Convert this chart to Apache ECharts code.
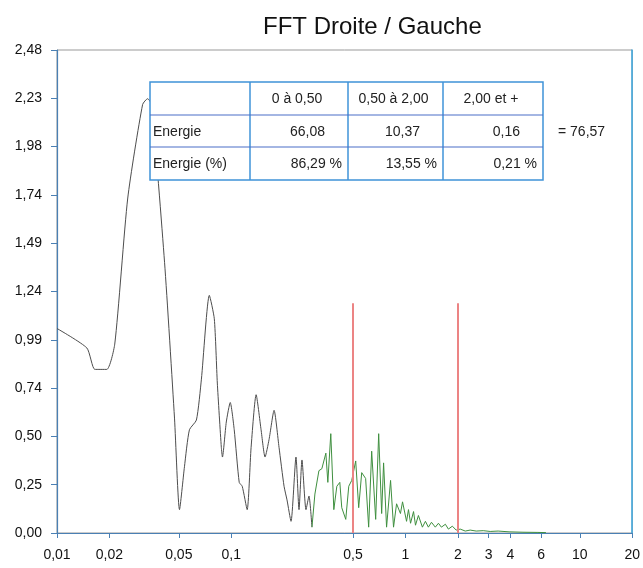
<!DOCTYPE html>
<html>
<head>
<meta charset="utf-8">
<script src="https://cdn.jsdelivr.net/npm/echarts@6/dist/echarts.min.js"></script>
<style>
html,body{margin:0;padding:0;background:#fff;}
#chart{width:643px;height:568px;}
</style>
</head>
<body>
<div id="chart"></div>
<script>
// ---- data ----
var titleText = 'FFT Droite / Gauche';
var xTickValues = [0.01, 0.02, 0.05, 0.1, 0.5, 1, 2, 3, 4, 6, 10, 20];
var yMin = 0, yMax = 2.48, yStep = 0.248;
var bandLimits = [0.5, 2];
var bandLineTop = 1.18;

// low-frequency part of the spectrum (dark trace)
var spectrumLow = [
  [0.01, 1.05], [0.01484, 0.95], [0.01649, 0.84], [0.01931, 0.84], [0.02145, 0.97],
  [0.02547, 1.72], [0.03099, 2.20], [0.03311, 2.23], [0.03491, 2.20], [0.04142, 1.39],
  [0.04724, 0.59], [0.05046, 0.12], [0.05388, 0.34], [0.05754, 0.53], [0.0631, 0.58],
  [0.06741, 0.79], [0.07484, 1.22], [0.07993, 1.10], [0.08318, 0.77], [0.0877, 0.44],
  [0.089, 0.39], [0.09366, 0.57], [0.09867, 0.67], [0.104, 0.53], [0.1111, 0.26],
  [0.1156, 0.24], [0.1234, 0.12], [0.13, 0.44], [0.1389, 0.71], [0.1483, 0.53],
  [0.1563, 0.39], [0.1648, 0.48], [0.1761, 0.63], [0.188, 0.44], [0.2009, 0.24],
  [0.2089, 0.17], [0.2203, 0.06], [0.2352, 0.39], [0.2448, 0.12], [0.2546, 0.375],
  [0.2685, 0.12], [0.2793, 0.19], [0.2905, 0.03]
];
// higher-frequency part of the spectrum (green trace)
var spectrumHigh = [
  [0.2905, 0.03], [0.302, 0.20], [0.3185, 0.32], [0.3311, 0.33], [0.3491, 0.41],
  [0.3583, 0.26], [0.3726, 0.51], [0.3878, 0.12], [0.4036, 0.24], [0.4198, 0.26],
  [0.4307, 0.13], [0.4421, 0.12], [0.4541, 0.07], [0.4724, 0.24], [0.4913, 0.27],
  [0.5179, 0.37], [0.5387, 0.13], [0.5606, 0.31], [0.5905, 0.28], [0.6146, 0.03],
  [0.6395, 0.42], [0.6743, 0.07], [0.7016, 0.51], [0.7298, 0.10], [0.7485, 0.36],
  [0.7786, 0.03], [0.8209, 0.27], [0.8538, 0.03], [0.8886, 0.15], [0.9354, 0.10],
  [0.9616, 0.16], [1.014, 0.06], [1.040, 0.12], [1.069, 0.05], [1.112, 0.11],
  [1.141, 0.04], [1.186, 0.09], [1.25, 0.03], [1.301, 0.06], [1.353, 0.03],
  [1.409, 0.055], [1.483, 0.03], [1.545, 0.05], [1.607, 0.03], [1.694, 0.045],
  [1.762, 0.02], [1.857, 0.035], [1.954, 0.015], [2.061, 0.02], [2.203, 0.01],
  [2.35, 0.015], [2.545, 0.01], [2.793, 0.012], [3.062, 0.008], [3.4, 0.01],
  [3.929, 0.006], [4.722, 0.004], [5.754, 0.003], [6.397, 0.002]
];

var tableHeader = ['', '0 à 0,50', '0,50 à 2,00', '2,00 et +'];
var tableEnergy = ['Energie', '66,08', '10,37', '0,16'];
var tablePercent = ['Energie (%)', '86,29 %', '13,55 %', '0,21 %'];
var totalLabel = '= 76,57';

// ---- layout ----
var colEdges = [150, 250, 348, 443, 543];
var rowEdges = [82, 115, 147, 180];
var tableColor = '#3f93d8';
var font = '"Liberation Sans", Arial, sans-serif';
var tableFont = '14px ' + font;

function fmtComma(v, d) {
  return (d == null ? String(Number(v.toPrecision(6))) : v.toFixed(d)).replace('.', ',');
}

var graphics = [];
graphics.push({
  type: 'rect', z: 100,
  shape: {x: colEdges[0], y: rowEdges[0], width: colEdges[4] - colEdges[0], height: rowEdges[3] - rowEdges[0]},
  style: {fill: '#fff', stroke: tableColor, lineWidth: 1.5}
});
for (var i = 1; i < colEdges.length - 1; i++) {
  graphics.push({type: 'line', z: 101,
    shape: {x1: colEdges[i], y1: rowEdges[0], x2: colEdges[i], y2: rowEdges[3]},
    style: {stroke: tableColor, lineWidth: 1.5}});
}
for (var j = 1; j < rowEdges.length - 1; j++) {
  graphics.push({type: 'line', z: 101,
    shape: {x1: colEdges[0], y1: rowEdges[j], x2: colEdges[4], y2: rowEdges[j]},
    style: {stroke: '#4a6fc8', lineWidth: 1.2}});
}
function cellText(txt, col, row, align) {
  var cy = (rowEdges[row] + rowEdges[row + 1]) / 2 + 1;
  var x;
  if (align === 'left') x = colEdges[col] + 3;
  else if (align === 'center') x = (colEdges[col] + colEdges[col + 1]) / 2 - 2;
  else x = colEdges[col + 1] - align;
  graphics.push({type: 'text', z: 102, x: x, y: cy,
    style: {text: txt, fill: '#222', font: tableFont,
      textAlign: (align === 'left' ? 'left' : align === 'center' ? 'center' : 'right'),
      textVerticalAlign: 'middle'}});
}
for (var c = 1; c < 4; c++) cellText(tableHeader[c], c, 0, 'center');
cellText(tableEnergy[0], 0, 1, 'left');
cellText(tablePercent[0], 0, 2, 'left');
for (var c2 = 1; c2 < 4; c2++) {
  cellText(tableEnergy[c2], c2, 1, 23);
  cellText(tablePercent[c2], c2, 2, 6);
}
graphics.push({type: 'text', z: 102, x: 558, y: (rowEdges[1] + rowEdges[2]) / 2 + 1,
  style: {text: totalLabel, fill: '#222', font: tableFont, textAlign: 'left', textVerticalAlign: 'middle'}});

var chart = echarts.init(document.getElementById('chart'));
chart.setOption({
  backgroundColor: '#fff',
  animation: false,
  title: {
    text: titleText, left: 258, top: 10,
    textStyle: {fontSize: 24, fontWeight: 'normal', color: '#111', fontFamily: font}
  },
  grid: {left: 57, right: 9, top: 50, bottom: 35, show: true, borderColor: '#999', borderWidth: 1},
  xAxis: {
    type: 'log', logBase: 10, min: 0.01, max: 20,
    axisLine: {show: true, lineStyle: {color: '#4a80b4', width: 1.2}},
    axisTick: {show: true, length: 5, customValues: xTickValues, lineStyle: {color: '#4a80b4'}},
    minorTick: {show: false},
    axisLabel: {customValues: xTickValues, margin: 15, color: '#111', fontSize: 14, fontFamily: font,
      formatter: function (v) { return fmtComma(v); }},
    splitLine: {show: false}
  },
  yAxis: [{
    type: 'value', min: yMin, max: yMax, interval: yStep,
    axisLine: {show: true, lineStyle: {color: '#4a80b4', width: 1.2}},
    axisTick: {show: true, length: 6, lineStyle: {color: '#4a80b4'}},
    axisLabel: {margin: 15, color: '#111', fontSize: 14, fontFamily: font,
      formatter: function (v) { return fmtComma(v, 2); }},
    splitLine: {show: false}
  }, {
    type: 'value', min: yMin, max: yMax, position: 'right',
    axisLine: {show: true, lineStyle: {color: '#3aa6de', width: 1.5}},
    axisTick: {show: false}, axisLabel: {show: false}, splitLine: {show: false}
  }],
  series: [{
    type: 'line', data: spectrumLow, showSymbol: false, symbol: 'none', smooth: 0.2,
    lineStyle: {color: '#4d4d4d', width: 1}, z: 3
  }, {
    type: 'line', data: spectrumHigh, showSymbol: false, symbol: 'none',
    lineStyle: {color: '#3f8f3f', width: 1}, z: 4,
    markLine: {
      silent: true, symbol: ['none', 'none'], label: {show: false},
      lineStyle: {color: '#ec8484', width: 2, type: 'solid'},
      data: bandLimits.map(function (b) { return [{coord: [b, 0]}, {coord: [b, bandLineTop]}]; })
    }
  }],
  graphic: graphics
});
</script>
</body>
</html>
